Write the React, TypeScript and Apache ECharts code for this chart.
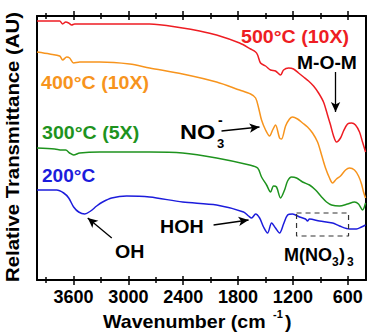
import React, { useEffect, useRef } from "react";
import * as echarts from "echarts";

const xMajor = [600, 1200, 1800, 2400, 3000, 3600];
const xMinor = [900, 1500, 2100, 2700, 3300, 3900];

const wn500 = [4000, 3861, 3752, 3719, 3686, 3653, 3621, 3588, 3314, 2986, 2768, 2407, 2221, 2035, 1783, 1663, 1608, 1586, 1554, 1499, 1444, 1390, 1335, 1302, 1247, 1193, 1138, 1083, 1029, 974, 919, 865, 821, 788, 755, 723, 679, 646, 602, 558, 515, 471, 438, 405];
const t500 = [259, 259, 259, 256, 258, 257, 255, 256, 256, 256, 256, 252, 249, 245, 237, 231, 228, 225, 217, 214, 210, 209, 205, 210, 212, 211, 207, 203, 199, 194, 187, 178, 165, 155, 144, 138, 142, 149, 156, 157, 155, 148, 138, 128];

const wn400 = [4000, 3861, 3752, 3719, 3675, 3643, 3599, 3533, 3314, 2986, 2768, 2407, 2035, 1783, 1663, 1608, 1575, 1543, 1499, 1455, 1422, 1390, 1346, 1324, 1280, 1237, 1204, 1149, 1094, 1040, 985, 930, 886, 843, 799, 766, 723, 679, 624, 580, 526, 482, 449, 427, 405];
const t400 = [228, 226, 224, 220, 223, 222, 217, 218, 218, 216, 212, 206, 198, 190, 186, 182, 172, 160, 150, 144, 150, 155, 142, 141, 154, 161, 163, 161, 157, 153, 147, 138, 125, 112, 102, 97, 101, 104, 110, 112, 110, 104, 96, 88, 82];

const wn300 = [4000, 3806, 3730, 3686, 3643, 3599, 3533, 3314, 2768, 2407, 2035, 1674, 1586, 1543, 1488, 1444, 1412, 1379, 1335, 1291, 1258, 1215, 1160, 1094, 1018, 952, 886, 832, 777, 690, 602, 526, 482, 438, 405];
const t300 = [132, 131, 130, 130, 127, 125, 127, 128, 128, 127, 122, 115, 112, 103, 95, 88, 94, 93, 82, 90, 99, 103, 102, 98, 95, 90, 83, 78, 75, 74, 76, 78, 76, 70, 77];

const wn200 = [4000, 3785, 3708, 3653, 3599, 3544, 3478, 3413, 3347, 3282, 3183, 3019, 2768, 2407, 2035, 1740, 1685, 1652, 1608, 1564, 1521, 1477, 1433, 1390, 1346, 1302, 1258, 1204, 1127, 1062, 1040, 1018, 909, 766, 690, 580, 504, 449, 405];
const t200 = [90, 90, 87, 82, 73, 68, 66, 69, 74, 78, 82, 84, 83, 78, 75, 68, 64, 62, 66, 62, 53, 47, 57, 52, 47, 56, 65, 66, 63, 61, 59, 61, 59, 57, 54, 51, 51, 53, 55];

const boxWn = [1160, 591, 591, 1160, 1160];
const boxT = [67, 67, 44, 44, 67];

// arrows: [fromWn, fromT, toWn, toT]
const arrows = [
  [733, 208, 733, 168],
  [1981, 149, 1565, 153],
  [3182, 42, 3445, 62],
  [2068, 55, 1685, 60],
];

const RED = "#ee1d23";
const ORANGE = "#f7941d";
const GREEN = "#1e931e";
const BLUE = "#1c1cdc";
const FONT = "Liberation Sans, Arial, sans-serif";

const zip = (a: number[], b: number[]) => a.map((v, i) => [v, b[i]]);

function tickAxis(pos: string, values: number[], inside: boolean, len: number, main = false) {
  return {
    type: "value",
    position: pos,
    min: 400,
    max: 4000,
    inverse: true,
    axisLine: { show: main, lineStyle: { color: "#000", width: 2 } },
    axisTick: { show: true, inside, length: len, customValues: values, lineStyle: { color: "#000", width: 1.5 } },
    axisLabel: main && pos === "bottom"
      ? {
          show: true,
          customValues: xMajor,
          formatter: (v: number) => String(v),
          color: "#000",
          fontFamily: FONT,
          fontWeight: "bold",
          fontSize: 18,
          margin: 8,
        }
      : { show: false },
    splitLine: { show: false },
  };
}

function txt(x: number, y: number, text: string, color: string, size = 18, sx = 1.09, align = "left", rotation = 0) {
  return {
    type: "text",
    x,
    y,
    scaleX: sx,
    rotation,
    silent: true,
    style: {
      text,
      fill: color,
      font: `bold ${size}px ${FONT}`,
      textAlign: align,
      textVerticalAlign: "middle",
      align,
      verticalAlign: "middle",
    },
  };
}

export default function App() {
  const ref = useRef<HTMLDivElement>(null);
  useEffect(() => {
    document.body.style.margin = "0";
    const chart = echarts.init(ref.current!, null, { renderer: "svg" });
    const lineSeries = (name: string, wn: number[], t: number[], color: string) => ({
      name,
      type: "line",
      data: zip(wn, t),
      showSymbol: false,
      symbol: "none",
      smooth: 0.3,
      lineStyle: { color, width: 1.5 },
      xAxisIndex: 0,
      yAxisIndex: 0,
    });
    chart.setOption({
      animation: false,
      grid: { left: 37, right: 2, top: 16, bottom: 53 },
      xAxis: [
        tickAxis("bottom", xMajor, false, 5, true),
        tickAxis("bottom", xMajor, true, 4),
        tickAxis("bottom", xMinor, false, 3),
        tickAxis("bottom", xMinor, true, 3),
        tickAxis("top", xMajor, false, 5, true),
        tickAxis("top", xMajor, true, 4),
        tickAxis("top", xMinor, false, 3),
        tickAxis("top", xMinor, true, 3),
      ],
      yAxis: [
        {
          type: "value",
          min: 0,
          max: 264,
          position: "left",
          axisLine: { show: true, lineStyle: { color: "#000", width: 2 } },
          axisTick: { show: false },
          axisLabel: { show: false },
          splitLine: { show: false },
        },
        {
          type: "value",
          min: 0,
          max: 264,
          position: "right",
          axisLine: { show: true, lineStyle: { color: "#000", width: 2 } },
          axisTick: { show: false },
          axisLabel: { show: false },
          splitLine: { show: false },
        },
      ],
      series: [
        lineSeries("500", wn500, t500, RED),
        lineSeries("400", wn400, t400, ORANGE),
        lineSeries("300", wn300, t300, GREEN),
        lineSeries("200", wn200, t200, BLUE),
        {
          type: "line",
          data: zip(boxWn, boxT),
          showSymbol: false,
          symbol: "none",
          lineStyle: { color: "#333", width: 1.2, type: [5, 4] },
          markLine: {
            silent: true,
            symbol: ["none", "arrow"],
            symbolSize: [7, 10],
            label: { show: false },
            lineStyle: { color: "#000", width: 1.3, type: "solid" },
            data: arrows.map((a) => [{ coord: [a[0], a[1]] }, { coord: [a[2], a[3]] }]),
          },
        },
      ],
      graphic: [
        txt(13, 147, "Relative Transmittance (AU)", "#000", 18, 1.13, "center", Math.PI / 2),
        txt(241, 37, "500°C (10X)", RED),
        txt(297, 63, "M-O-M", "#000", 18, 1.07),
        txt(41, 83, "400°C (10X)", ORANGE),
        txt(42, 133, "300°C (5X)", GREEN),
        txt(42, 176, "200°C", BLUE, 18, 1.06),
        txt(180, 132, "NO", "#000", 21, 1.12),
        txt(217, 143, "3", "#000", 13, 1.0),
        txt(218, 120, "-", "#000", 14, 1.0),
        txt(115, 252, "OH", "#000"),
        txt(160, 227, "HOH", "#000"),
        txt(284, 255, "M(NO", "#000", 18, 1.0),
        txt(332, 262, "3", "#000", 12, 1.0),
        txt(339, 255, ")", "#000", 18, 1.0),
        txt(347, 262, "3", "#000", 12, 1.0),
        txt(103, 322, "Wavenumber (cm", "#000"),
        txt(273, 314, "-1", "#000", 11, 1.0),
        txt(285, 322, ")", "#000"),
      ],
    });
    return () => chart.dispose();
  }, []);
  return <div ref={ref} style={{ width: 368, height: 333 }} />;
}
